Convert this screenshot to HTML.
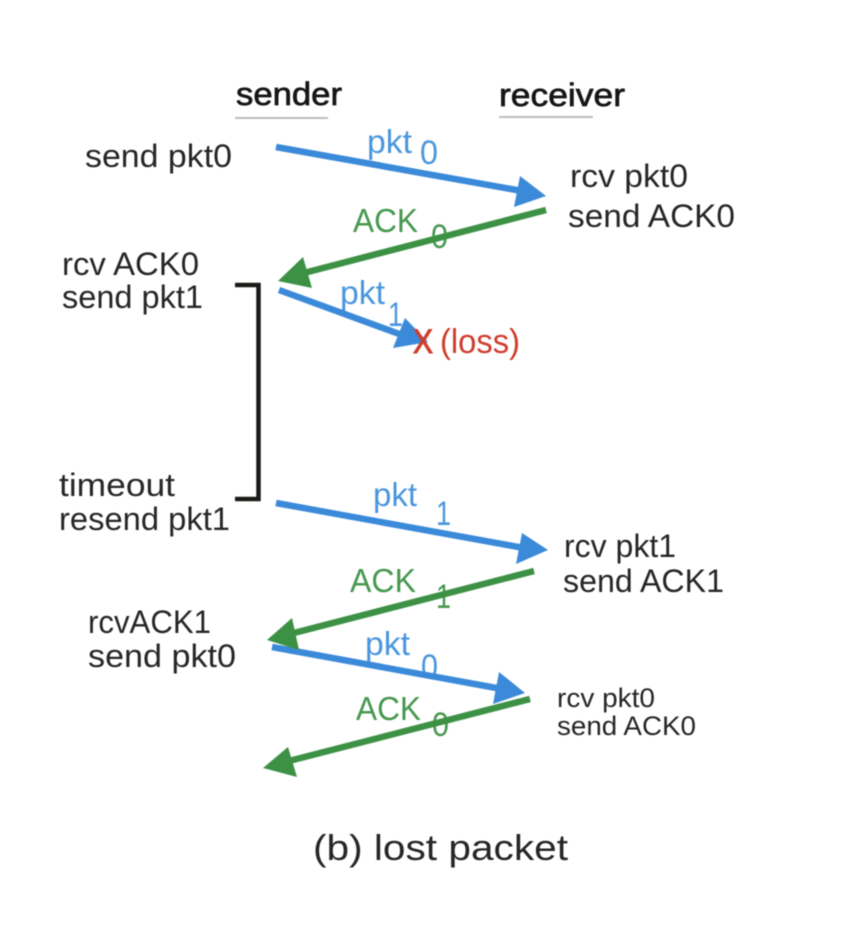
<!DOCTYPE html>
<html>
<head>
<meta charset="utf-8">
<style>
html,body{margin:0;padding:0;background:#fff;width:842px;height:934px;overflow:hidden}
svg{display:block;filter:blur(.45px)}
text{font-family:"Liberation Sans",sans-serif;font-size:32px;fill:#262626}
.h{fill:#161616;stroke:#161616;stroke-width:.7px;font-size:32px}
.b{fill:#4a96de;font-size:33px}
.g{fill:#46984f;font-size:33px}
.r{fill:#cf3d2c;font-size:34px}
.s{font-size:34px}
.sm{font-size:27px}
</style>
</head>
<body>
<svg width="842" height="934" viewBox="0 0 842 934" xmlns="http://www.w3.org/2000/svg">
<defs>
<clipPath id="c"><polygon points="400,640 450,640 450,676 400,669"/></clipPath>
</defs>
<rect width="842" height="934" fill="#fff"/>

<text class="h" x="236" y="105" textLength="106" lengthAdjust="spacingAndGlyphs">sender</text>
<text class="h" x="499" y="106" textLength="126" lengthAdjust="spacingAndGlyphs">receiver</text>
<rect x="235" y="117" width="93" height="2" fill="#bdbdbd"/>
<rect x="499" y="116" width="94" height="2" fill="#bdbdbd"/>

<text x="85" y="167" textLength="147" lengthAdjust="spacingAndGlyphs">send pkt0</text>
<text x="570" y="187" textLength="118" lengthAdjust="spacingAndGlyphs">rcv pkt0</text>
<text x="568" y="227" textLength="167" lengthAdjust="spacingAndGlyphs">send ACK0</text>
<text x="62" y="275" textLength="137" lengthAdjust="spacingAndGlyphs">rcv ACK0</text>
<text x="62" y="308" textLength="141" lengthAdjust="spacingAndGlyphs">send pkt1</text>
<text x="59" y="496" textLength="116" lengthAdjust="spacingAndGlyphs">timeout</text>
<text x="59" y="530" textLength="171" lengthAdjust="spacingAndGlyphs">resend pkt1</text>
<text x="88" y="633" textLength="123" lengthAdjust="spacingAndGlyphs">rcvACK1</text>
<text x="88" y="667" textLength="148" lengthAdjust="spacingAndGlyphs">send pkt0</text>
<text x="564" y="557" textLength="112" lengthAdjust="spacingAndGlyphs">rcv pkt1</text>
<text x="563" y="592" textLength="161" lengthAdjust="spacingAndGlyphs">send ACK1</text>
<text class="sm" x="557" y="707" textLength="98" lengthAdjust="spacingAndGlyphs">rcv pkt0</text>
<text class="sm" x="557" y="735" textLength="139" lengthAdjust="spacingAndGlyphs">send ACK0</text>
<text x="313" y="860" style="font-size:36px" textLength="255" lengthAdjust="spacingAndGlyphs">(b) lost packet</text>

<text class="b" x="367" y="153" textLength="45" lengthAdjust="spacingAndGlyphs">pkt</text>
<text class="b s" x="420" y="164" textLength="18" lengthAdjust="spacingAndGlyphs">0</text>
<text class="g" x="353" y="232" textLength="65" lengthAdjust="spacingAndGlyphs">ACK</text>
<text class="g s" x="431" y="248" textLength="17" lengthAdjust="spacingAndGlyphs">0</text>
<text class="b" x="340" y="304" textLength="45" lengthAdjust="spacingAndGlyphs">pkt</text>
<text class="b s" x="388" y="326" textLength="15" lengthAdjust="spacingAndGlyphs">1</text>
<text class="b" x="373" y="506" textLength="44" lengthAdjust="spacingAndGlyphs">pkt</text>
<text class="b s" x="436" y="525" textLength="15" lengthAdjust="spacingAndGlyphs">1</text>
<text class="g" x="350" y="592" textLength="66" lengthAdjust="spacingAndGlyphs">ACK</text>
<text class="g s" x="436" y="608" textLength="15" lengthAdjust="spacingAndGlyphs">1</text>
<text class="b" x="365" y="655" textLength="45" lengthAdjust="spacingAndGlyphs">pkt</text>
<text class="b s" x="421" y="678" textLength="17" lengthAdjust="spacingAndGlyphs" clip-path="url(#c)">0</text>
<text class="g" x="356" y="720" textLength="65" lengthAdjust="spacingAndGlyphs">ACK</text>
<text class="g s" x="432" y="736" textLength="17" lengthAdjust="spacingAndGlyphs">0</text>

<g fill="none" stroke-width="6.500">
<line x1="276" y1="147" x2="522" y2="191" stroke="#3b8ad9"/>
<line x1="546" y1="210" x2="300" y2="274" stroke="#3d9145"/>
<line x1="279" y1="290" x2="402" y2="335" stroke="#3b8ad9"/>
<line x1="276" y1="503" x2="524" y2="548" stroke="#3b8ad9"/>
<line x1="534" y1="571" x2="290" y2="634" stroke="#3d9145"/>
<line x1="272" y1="647" x2="502" y2="689" stroke="#3b8ad9"/>
<line x1="530" y1="699" x2="285" y2="762" stroke="#3d9145"/>
</g>
<g stroke="none">
<polygon points="546,196 520,176 514,207" fill="#3b8ad9"/>
<polygon points="278,281 303,257 312,288" fill="#3d9145"/>
<polygon points="428,342 405,318 393,348" fill="#3b8ad9"/>
<polygon points="548,550 522,533 516,564" fill="#3b8ad9"/>
<polygon points="267,640 292,618 299,650" fill="#3d9145"/>
<polygon points="525,693 499,672 493,704" fill="#3b8ad9"/>
<polygon points="263,768 288,747 297,777" fill="#3d9145"/>
</g>

<polyline points="235,285 258.500,285 258.500,499 235,499" fill="none" stroke="#1c1917" stroke-width="4.500"/>

<text class="r" x="413" y="353" style="stroke:#cf3d2c;stroke-width:1px" textLength="20" lengthAdjust="spacingAndGlyphs">X</text>
<text class="r" x="440" y="353" textLength="80" lengthAdjust="spacingAndGlyphs">(loss)</text>
</svg>
</body>
</html>
